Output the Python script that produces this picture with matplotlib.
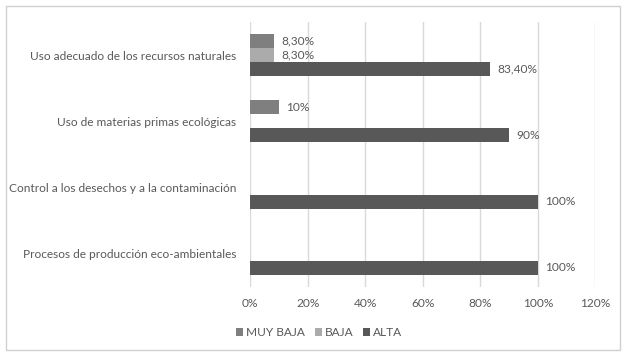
import numpy as np
import matplotlib.pyplot as plt
from matplotlib.patches import Rectangle

plt.rcParams['font.family'] = ['Lato', 'DejaVu Sans']

categories = ['Procesos de producción eco-ambientales',
              'Control a los desechos y a la contaminación',
              'Uso de materias primas ecológicas',
              'Uso adecuado de los recursos naturales']
series = ['MUY BAJA', 'BAJA', 'ALTA']
muy_baja = [0, 0, 10, 8.3]
baja = [0, 0, 0, 8.3]
alta = [100, 100, 90, 83.4]
labels_muy_baja = ['', '', '10%', '8,30%']
labels_baja = ['', '', '', '8,30%']
labels_alta = ['100%', '100%', '90%', '83,40%']
x_ticks = [0, 20, 40, 60, 80, 100, 120]

colors = {'MUY BAJA': '#7f7f7f', 'BAJA': '#ababab', 'ALTA': '#585858'}
text_color = '#595959'
fs = 8.6

fig = plt.figure(figsize=(6.24, 3.54), dpi=100)
ax = fig.add_axes([0.401, 0.189, 0.553, 0.749])

y = np.arange(len(categories))
h = 0.21
data = [(muy_baja, labels_muy_baja, 'MUY BAJA', h),
        (baja, labels_baja, 'BAJA', 0),
        (alta, labels_alta, 'ALTA', -h)]

for vals, labs, name, off in data:
    bars = ax.barh(y + off, vals, height=h, color=colors[name], label=name, zorder=3)
    for b, v, lab in zip(bars, vals, labs):
        if lab:
            ax.annotate(lab, (v, b.get_y() + b.get_height() / 2), xytext=(5, 0),
                        textcoords='offset points', va='center', ha='left',
                        fontsize=fs, color=text_color)

ax.set_xlim(0, 120)
ax.set_ylim(-0.5, 3.5)
ax.set_xticks(x_ticks)
ax.set_xticklabels([f'{t}%' for t in x_ticks])
ax.set_yticks(y)
ax.set_yticklabels(categories)
ax.tick_params(axis='both', length=0, labelsize=fs, colors=text_color)
ax.tick_params(axis='x', pad=8)
ax.tick_params(axis='y', pad=10)
ax.xaxis.grid(True, color='#d9d9d9', linewidth=1, zorder=0)
for s in ax.spines.values():
    s.set_visible(False)

ax.legend(loc='upper center', bbox_to_anchor=(0.2, -0.11), ncol=3, frameon=False,
          fontsize=fs, labelcolor=text_color, handlelength=0.6, handleheight=0.6,
          handletextpad=0.25, columnspacing=0.8)

fig.patches.append(Rectangle((6 / 624, 4 / 354), 614 / 624, 344 / 354, transform=fig.transFigure,
                             fill=False, edgecolor='#d0d0d0', linewidth=1))

fig.savefig('out.png', dpi=100, facecolor='white')
